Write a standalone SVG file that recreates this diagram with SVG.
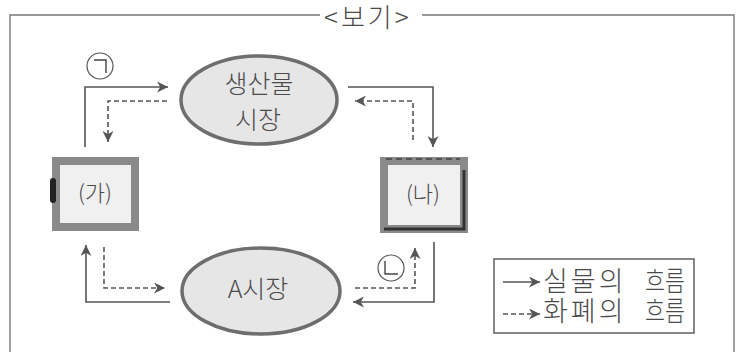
<svg xmlns="http://www.w3.org/2000/svg" width="737" height="353" viewBox="0 0 737 353">
<style>
.t{font-family:"Noto Sans CJK KR","Liberation Sans",sans-serif;fill:#4a4a4a;font-weight:300}
.sol{fill:none;stroke:#555;stroke-width:1.6}
.dash{fill:none;stroke:#555;stroke-width:1.6;stroke-dasharray:5 3}
.ell{fill:#e6e6e6;stroke:#6e6e6e;stroke-width:3.5}
.box{fill:#f0f0f0;stroke:#8a8a8a;stroke-width:8}
.lab{fill:none;stroke:#555;stroke-width:1.2}
</style>
<defs>
<marker id="ah" viewBox="0 0 10 10" refX="10" refY="5" markerWidth="11" markerHeight="11" markerUnits="userSpaceOnUse" orient="auto">
<path d="M0,0 L10,5 L0,10 L3,5 Z" fill="#555"/>
</marker>
</defs>
<rect width="737" height="353" fill="#fff"/>
<g id="frame">
<path d="M320,15 H10 V352 M422,15 H734 V352" fill="none" stroke="#777" stroke-width="1.4"/>
<text class="t" x="324" y="27" font-size="26" letter-spacing="3">&lt;보기&gt;</text>
</g>
<g id="connectors">
<path class="sol" d="M85,147 V87 H168" marker-end="url(#ah)"/>
<path class="dash" d="M167,101 H108 V142" marker-end="url(#ah)"/>
<path class="sol" d="M348,87 H433 V147" marker-end="url(#ah)"/>
<path class="dash" d="M413,140 V101 H355" marker-end="url(#ah)"/>
<path class="sol" d="M170,302 H86 V245" marker-end="url(#ah)"/>
<path class="dash" d="M104,247 V288 H165" marker-end="url(#ah)"/>
<path class="sol" d="M434,242 V302 H353" marker-end="url(#ah)"/>
<path class="dash" d="M355,288 H415 V248" marker-end="url(#ah)"/>
</g>
<g id="label-a">
<circle class="lab" cx="100" cy="66" r="13"/>
<path d="M94,60 H106 V73" fill="none" stroke="#444" stroke-width="1.4"/>
</g>
<g id="label-b">
<circle class="lab" cx="391" cy="268" r="13"/>
<path d="M385,261 V274 H398" fill="none" stroke="#444" stroke-width="1.4"/>
</g>
<g id="product-market">
<ellipse class="ell" cx="259" cy="100" rx="78" ry="44"/>
<text class="t" x="259" y="93" font-size="25" text-anchor="middle">생산물</text>
<text class="t" x="258" y="129" font-size="25" text-anchor="middle">시장</text>
</g>
<g id="a-market">
<ellipse class="ell" cx="261" cy="291" rx="79" ry="43"/>
<text class="t" x="258" y="298" font-size="25" text-anchor="middle">A시장</text>
</g>
<g id="ga">
<rect class="box" x="56" y="161" width="79" height="66"/>
<rect x="50" y="178" width="6" height="25" rx="3" fill="#222"/>
<text class="t" x="95" y="201" font-size="22" text-anchor="middle">(가)</text>
</g>
<g id="na">
<rect class="box" x="384" y="161" width="80" height="68"/>
<path d="M464,170 V229 H384" fill="none" stroke="#333" stroke-width="3"/>
<path d="M386,159 H460" fill="none" stroke="#444" stroke-width="1.5" stroke-dasharray="6 4"/>
<text class="t" x="423" y="202" font-size="22" text-anchor="middle">(나)</text>
</g>
<g id="legend">
<rect x="494" y="259" width="200" height="74" fill="#fff" stroke="#555" stroke-width="1.4"/>
<path class="sol" d="M503,282 H540" marker-end="url(#ah)"/>
<path class="dash" d="M503,314 H540" stroke-dasharray="4 3" marker-end="url(#ah)"/>
<text class="t" x="543" y="291" font-size="27" letter-spacing="3">실물의</text>
<text class="t" x="645" y="291" font-size="27" textLength="40" lengthAdjust="spacingAndGlyphs">흐름</text>
<text class="t" x="543" y="321" font-size="27" letter-spacing="3">화폐의</text>
<text class="t" x="645" y="321" font-size="27" textLength="40" lengthAdjust="spacingAndGlyphs">흐름</text>
</g>
</svg>
